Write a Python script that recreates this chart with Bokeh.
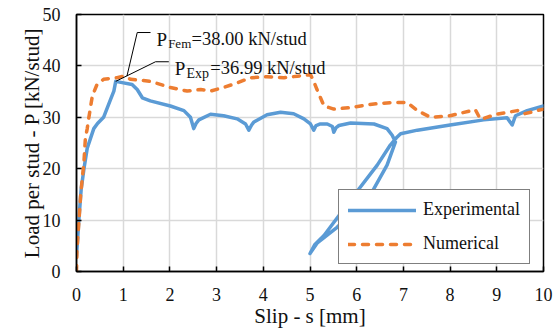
from bokeh.plotting import figure
from bokeh.models import Range1d, FixedTicker, Legend, LegendItem, Label
from bokeh.embed import file_html
from bokeh.resources import INLINE

# ---------------- data ----------------
exp_s = [0.00, 0.05, 0.10, 0.16, 0.23, 0.30, 0.37, 0.45, 0.58, 0.73, 0.80, 0.84,
         0.95, 1.19, 1.30, 1.41, 1.58, 2.01, 2.30, 2.44, 2.51, 2.56, 2.62, 2.87,
         3.15, 3.44, 3.62, 3.69, 3.75, 3.80, 4.08, 4.37, 4.65, 4.87, 5.01, 5.08,
         5.13, 5.22, 5.37, 5.48, 5.51, 5.56, 5.62, 5.87, 6.37, 6.65, 6.76, 6.83,
         6.65, 6.30, 5.58, 5.15, 5.00, 5.10, 5.30, 6.01, 6.44, 6.72, 6.85, 6.94,
         7.30, 8.00, 8.72, 9.22, 9.33, 9.40, 9.65, 10.00]
exp_P = [3.0, 10.0, 16.0, 20.0, 24.0, 25.9, 27.8, 28.8, 30.0, 33.5, 35.1, 36.99,
         36.8, 36.4, 35.4, 33.8, 33.2, 32.2, 31.3, 30.0, 27.8, 28.8, 29.5, 30.6,
         30.3, 29.7, 28.7, 27.5, 28.5, 29.1, 30.5, 31.0, 30.7, 29.7, 28.7, 27.5,
         28.4, 28.7, 28.7, 28.2, 27.1, 28.0, 28.4, 28.9, 28.7, 27.8, 26.5, 25.2,
         20.7, 15.0, 8.6, 5.5, 3.5, 5.2, 7.0, 15.6, 20.7, 24.6, 26.0, 26.8,
         27.5, 28.5, 29.5, 29.9, 28.5, 30.3, 31.3, 32.2]

num_s = [0.00, 0.01, 0.05, 0.09, 0.16, 0.19, 0.23, 0.26, 0.34, 0.44, 0.58, 0.87,
         1.00, 1.16, 1.58, 2.01, 2.37, 2.66, 2.87, 3.15, 3.44, 3.73, 4.08, 4.44,
         4.73, 5.01, 5.08, 5.15, 5.30, 5.51, 5.87, 6.37, 6.79, 7.08, 7.30, 7.58,
         8.00, 8.54, 8.65, 9.00, 9.44, 9.60, 10.00]
num_P = [0.0, 4.2, 9.5, 15.0, 21.4, 25.9, 27.8, 29.7, 34.2, 36.4, 37.4, 37.7,
         38.0, 37.4, 37.0, 35.8, 35.1, 35.4, 35.1, 35.8, 36.7, 37.7, 37.9, 37.7,
         38.0, 38.3, 37.0, 35.4, 32.2, 31.6, 31.9, 32.6, 32.9, 32.9, 31.3, 30.0,
         30.3, 31.5, 29.6, 30.6, 31.3, 30.7, 31.6]

x_ticks = [0, 1, 2, 3, 4, 5, 6, 7, 8, 9, 10]
y_ticks = [0, 10, 20, 30, 40, 50]

S_FEM, P_FEM = 1.08, 38.00
S_EXP, P_EXP = 0.84, 36.99
series_names = ["Experimental", "Numerical"]

BLUE = "#5B9BD5"
ORANGE = "#ED7D31"
FONT = "Liberation Serif"
TXT = "#111111"

# ---------------- geometry ----------------
W, H = 559, 330
BL, BR, BT, BB = 76, 16, 14, 54
FW = W - BL - BR
FH = H - BT - BB
XMAX, YMAX = 10.0, 50.0
sx = XMAX / FW   # data per px
sy = YMAX / FH

p = figure(width=W, height=H, output_backend="svg", toolbar_location=None,
           x_range=Range1d(0, XMAX), y_range=Range1d(0, YMAX),
           min_border_left=BL, min_border_right=BR, min_border_top=BT,
           min_border_bottom=BB)
p.background_fill_color = "white"
p.border_fill_color = "white"
p.outline_line_color = "black"
p.outline_line_width = 1.5

for ax in (p.xaxis[0], p.yaxis[0]):
    ax.axis_line_color = "black"
    ax.axis_line_width = 1.5
    ax.major_tick_in = 5
    ax.major_tick_out = 0
    ax.major_tick_line_color = "black"
    ax.major_tick_line_width = 1.5
    ax.minor_tick_line_color = None
    ax.major_label_text_font = FONT
    ax.major_label_text_font_size = "18px"
    ax.major_label_text_color = TXT
    ax.axis_label_text_font = FONT
    ax.axis_label_text_font_size = "21px"
    ax.axis_label_text_font_style = "normal"
    ax.axis_label_text_color = TXT

p.xaxis.ticker = FixedTicker(ticks=x_ticks)
p.yaxis.ticker = FixedTicker(ticks=y_ticks)
p.xaxis.axis_label = "Slip - s [mm]"
p.yaxis.axis_label = "Load per stud - P [kN/stud]"
p.xaxis.major_label_standoff = 16
p.yaxis.major_label_standoff = 16
p.xaxis.axis_label_standoff = 0
p.yaxis.axis_label_standoff = -4

p.xgrid.ticker = FixedTicker(ticks=x_ticks)
p.ygrid.ticker = FixedTicker(ticks=y_ticks)
p.grid.grid_line_color = "#D9D9D9"
p.grid.grid_line_width = 1.5

r_exp = p.line(exp_s, exp_P, line_color=BLUE, line_width=3.5, line_join="round",
               line_cap="round")
r_num = p.line(num_s, num_P, line_color=ORANGE, line_width=3.5, line_dash="6 8",
               line_cap="round", line_join="round")

# ---------------- annotations ----------------
def add_callout(s0, P0, elbow_dx, elbow_dy, tail, main, sub, value_txt, sub_dx, val_dx, sub_size):
    ex = s0 + elbow_dx * sx
    ey = P0 + elbow_dy * sy
    p.line([s0, ex, ex + tail * sx], [P0, ey, ey], line_color="black", line_width=1)
    tx = ex + (tail + 6.0) * sx
    base = ey - 6.6 * sy
    p.add_layout(Label(x=tx, y=base, text=main, text_font=FONT,
                       text_font_size="19px", text_color=TXT,
                       text_baseline="alphabetic", text_align="left"))
    p.add_layout(Label(x=tx + sub_dx * sx, y=base - 5 * sy, text=sub, text_font=FONT,
                       text_font_size=sub_size, text_color=TXT,
                       text_baseline="alphabetic", text_align="left"))
    p.add_layout(Label(x=tx + val_dx * sx, y=base, text=value_txt, text_font=FONT,
                       text_font_size="18.5px", text_color=TXT,
                       text_baseline="alphabetic", text_align="left"))

add_callout(S_FEM, P_FEM, 10.3, 44.5, 13.3, "P", "Fem", "=%.2f kN/stud" % P_FEM, 11.6, 35.0, "13px")
add_callout(S_EXP, P_EXP, 39.8, 20.0, 13.3, "P", "Exp", "=%.2f kN/stud" % P_EXP, 11.6, 35.5, "14px")

# ---------------- legend ----------------
legend = Legend(items=[LegendItem(label=series_names[0], renderers=[r_exp]),
                       LegendItem(label=series_names[1], renderers=[r_num])],
                location=(262, 7))
legend.label_text_font = FONT
legend.label_text_font_size = "18px"
legend.label_text_color = TXT
legend.glyph_width = 68
legend.glyph_height = 20
legend.label_height = 20
legend.label_standoff = 7
legend.spacing = 13
legend.padding = 9
legend.margin = 0
legend.border_line_color = "black"
legend.border_line_width = 1
legend.background_fill_color = "white"
legend.background_fill_alpha = 1
p.add_layout(legend, "center")

open("out.html", "w").write(file_html(p, INLINE))
